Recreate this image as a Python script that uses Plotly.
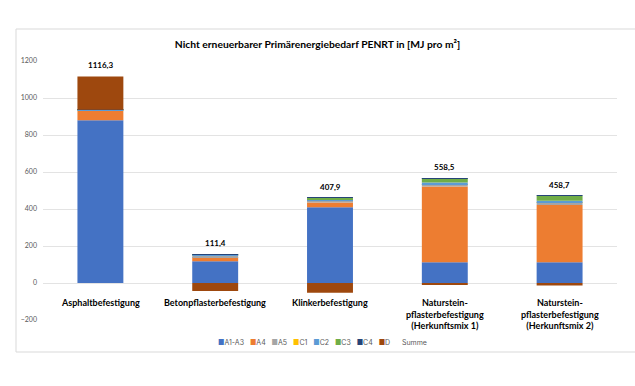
import plotly.graph_objects as go

categories = ["Asphaltbefestigung", "Betonpflasterbefestigung", "Klinkerbefestigung",
              "Naturstein-<br>pflasterbefestigung<br>(Herkunftsmix 1)",
              "Naturstein-<br>pflasterbefestigung<br>(Herkunftsmix 2)"]

series_names = ["A1-A3", "A4", "A5", "C1", "C2", "C3", "C4", "D"]
series_colors = ["#4472C4", "#ED7D31", "#A5A5A5", "#FFC000", "#5B9BD5", "#70AD47", "#264478", "#9E480E"]

A1_A3 = [880, 118, 410, 112, 112]
A4 = [50, 22, 25, 409, 310]
A5 = [4, 8, 12, 12, 12]
C1 = [0.5, 1, 1, 1, 1]
C2 = [1, 3, 3, 9, 9]
C3 = [0.5, 2, 9, 24, 28]
C4 = [0.5, 0.5, 0.5, 0.5, 0.5]
D = [179.8, -43.1, -52.6, -9.0, -13.8]
summe = [1116.3, 111.4, 407.9, 558.5, 458.7]

series_values = [A1_A3, A4, A5, C1, C2, C3, C4, D]

fig = go.Figure()
for name, color, vals in zip(series_names, series_colors, series_values):
    fig.add_trace(go.Bar(x=categories, y=vals, name=name, marker_color=color,
                         marker_line_width=0, width=0.4, showlegend=False))

pos_top = [sum(v[i] for v in series_values if v[i] > 0) for i in range(len(categories))]

font_fam = "Lato"

annotations = []
for c, top, s in zip(categories, pos_top, summe):
    annotations.append(dict(x=c, y=top, xref="x", yref="y",
                            text="<b>" + f"{s:.1f}".replace(".", ",") + "</b>",
                            showarrow=False, yanchor="bottom", yshift=4,
                            font=dict(family=font_fam, size=8, color="#000000")))
for c in categories:
    annotations.append(dict(x=c, y=0, xref="x", yref="y", text="<b>" + c + "</b>",
                            showarrow=False, yanchor="top", yshift=-12,
                            font=dict(family=font_fam, size=9, color="#000000")))

legend_parts = [f'<span style="color:{c}">■</span>{n}' for n, c in zip(series_names, series_colors)]
legend_text = "   ".join(legend_parts) + "      Summe"
annotations.append(dict(x=(322 - 43) / 574, y=(320 - 342) / 259, xref="paper", yref="paper",
                        text=legend_text, showarrow=False, xanchor="center", yanchor="middle",
                        font=dict(family="Inter", size=7, color="#595959")))

fig.update_layout(
    width=635, height=386,
    margin=dict(l=43, r=18, t=61, b=66),
    barmode="relative",
    paper_bgcolor="white", plot_bgcolor="white",
    title=dict(text="<b>Nicht erneuerbarer Primärenergiebedarf PENRT in [MJ pro m²]</b>",
               x=0.5, xanchor="center", y=1 - 44 / 386, yanchor="middle",
               font=dict(family=font_fam, size=10.3, color="#000000")),
    xaxis=dict(showticklabels=False, showgrid=False, zeroline=False, showline=False),
    yaxis=dict(range=[-200, 1200], dtick=200, showgrid=True, gridcolor="#E3E3E3",
               zeroline=True, zerolinecolor="#E3E3E3", zerolinewidth=1, showline=False,
               tickfont=dict(family=font_fam, size=7, color="#595959"), ticklabelstandoff=5),
    annotations=annotations,
    shapes=[dict(type="rect", xref="paper", yref="paper",
                 x0=(16 - 43) / 574, x1=(650 - 43) / 574,
                 y0=(320 - 352) / 259, y1=(320 - 29) / 259,
                 line=dict(color="#D9D9D9", width=1), fillcolor="rgba(0,0,0,0)", layer="below")],
)

fig.write_html("out.html", config={"displayModeBar": False},
               post_script="document.body.style.margin='0';")
